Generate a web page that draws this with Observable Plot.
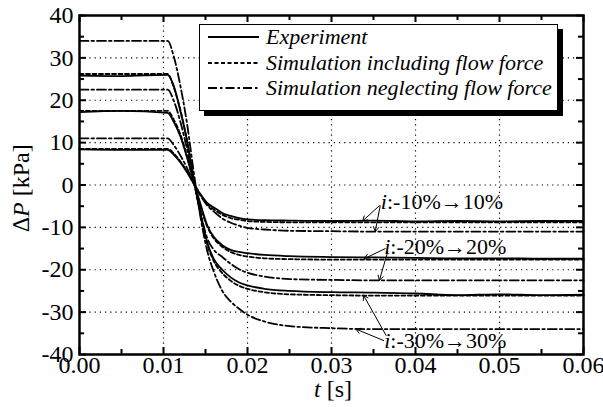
<!DOCTYPE html>
<html>
<head>
<meta charset="utf-8">
<script src="https://cdn.jsdelivr.net/npm/d3@7"></script>
<script src="https://cdn.jsdelivr.net/npm/@observablehq/plot@0.6"></script>
<style>
  body { margin: 0; background: #fff; }
  #chart { position: relative; width: 603px; height: 407px; font-family: 'Liberation Serif'; }
  #legend {
    position: absolute; left: 199px; top: 24px; width: 357px; height: 85px;
    background: #fff; border: 1px solid #000; box-shadow: 5px 5px 0 #000;
  }
  #legend .row { position: absolute; left: 0; height: 24px; display: flex; align-items: center; }
  #legend svg { margin-left: 8px; margin-right: 7px; }
  #legend span { font-style: italic; font-size: 22px; color: #000; font-family: 'Liberation Serif'; }
</style>
</head>
<body>
<div id="chart"></div>
<script>
// Time samples [s] shared by every curve
const times = [0, 0.005, 0.0105, 0.0112, 0.012, 0.0128, 0.0136, 0.0144, 0.0152, 0.016, 0.017, 0.018, 0.019, 0.02, 0.022, 0.025, 0.03, 0.035, 0.04, 0.045, 0.05, 0.055, 0.06];

// Measured pressure difference ΔP [kPa]
const exp10 = [8.4, 8.3, 8.3, 7.2, 5.4, 3.0, 0.3, -2.2, -4.2, -5.3, -6.6, -7.3, -7.8, -8.1, -8.3, -8.4, -8.5, -8.4, -8.6, -8.5, -8.6, -8.5, -8.5];
const exp20 = [17.2, 17.5, 17.0, 15.0, 11.5, 6.5, 0.8, -4.5, -9.5, -12.3, -14.2, -15.3, -15.8, -16.1, -16.5, -16.8, -17.0, -17.1, -17.2, -17.3, -17.3, -17.4, -17.4];
const exp30 = [25.8, 25.7, 26.0, 23.5, 17.5, 10.5, 1.5, -6.5, -13.5, -17.5, -20.0, -21.8, -23.0, -23.7, -24.5, -25.0, -25.3, -25.4, -25.6, -26.0, -25.8, -26.0, -25.9];

// Simulation including flow force
const incl10 = [8.5, 8.5, 8.5, 7.5, 5.6, 3.2, 0.4, -2.3, -4.5, -5.8, -7.0, -7.8, -8.2, -8.5, -8.7, -8.8, -8.8, -8.8, -8.8, -8.8, -8.8, -8.8, -8.8];
const incl20 = [17.5, 17.5, 17.5, 15.5, 12.0, 6.8, 0.6, -5.0, -9.8, -12.6, -14.6, -15.8, -16.5, -16.9, -17.3, -17.5, -17.6, -17.6, -17.6, -17.6, -17.6, -17.6, -17.6];
const incl30 = [26.2, 26.2, 26.2, 23.2, 17.8, 10.5, 1.2, -7.0, -14.0, -18.0, -20.8, -22.6, -23.8, -24.5, -25.3, -25.8, -26.0, -26.1, -26.1, -26.1, -26.1, -26.1, -26.1];

// Simulation neglecting flow force
const negl10 = [11.0, 11.0, 11.0, 9.5, 7.0, 4.0, 0.5, -2.5, -4.8, -6.3, -7.9, -8.9, -9.6, -10.1, -10.5, -10.8, -10.9, -11.0, -11.0, -11.0, -11.0, -11.0, -11.0];
const negl20 = [22.5, 22.5, 22.5, 20.0, 15.0, 8.5, 1.0, -6.5, -12.5, -15.3, -17.0, -18.6, -19.9, -20.7, -21.6, -22.2, -22.4, -22.5, -22.5, -22.5, -22.5, -22.5, -22.5];
const negl30 = [34.0, 34.0, 34.0, 30.5, 23.5, 14.5, 3.0, -7.5, -15.5, -20.5, -25.0, -27.5, -29.2, -30.6, -32.2, -33.3, -33.8, -34.0, -34.0, -34.0, -34.0, -34.0, -34.0];

// Axis ticks
const xMajor = [0, 0.01, 0.02, 0.03, 0.04, 0.05, 0.06];
const xMinor = [0.005, 0.015, 0.025, 0.035, 0.045, 0.055];
const yMajor = [-40, -30, -20, -10, 0, 10, 20, 30, 40];
const yMinor = [-35, -25, -15, -5, 5, 15, 25, 35];
const xGrid = [0.01, 0.02, 0.03, 0.04, 0.05];
const yGrid = [-30, -20, -10, 0, 10, 20, 30];

// Step labels and their pointer arrows (t, ΔP)
const stepLabels = [
  {t: 0.0366, v: -4.0, text: ":-10%→10%"},
  {t: 0.0370, v: -14.7, text: ":-20%→20%"},
  {t: 0.0370, v: -36.9, text: ":-30%→30%"}
];
const pointers = [
  {t1: 0.0357, v1: -4.9, t2: 0.0337, v2: -8.5},
  {t1: 0.0358, v1: -4.9, t2: 0.0352, v2: -11.0},
  {t1: 0.0364, v1: -15.0, t2: 0.0339, v2: -17.4},
  {t1: 0.0367, v1: -15.7, t2: 0.0357, v2: -22.5},
  {t1: 0.0365, v1: -35.5, t2: 0.0338, v2: -26.0},
  {t1: 0.0362, v1: -36.7, t2: 0.0329, v2: -34.0}
];

const series = [
  {style: "exp", vals: exp10}, {style: "exp", vals: exp20}, {style: "exp", vals: exp30},
  {style: "incl", vals: incl10}, {style: "incl", vals: incl20}, {style: "incl", vals: incl30},
  {style: "negl", vals: negl10}, {style: "negl", vals: negl20}, {style: "negl", vals: negl30}
];
const rows = series.flatMap((s, i) => times.map((t, j) => ({t, v: s.vals[j], key: i, style: s.style})));
const pick = (style) => rows.filter(d => d.style === style);

const W = 603, H = 407, mt = 15, mb = 53, ml = 79, mr = 20;
const innerH = H - mt - mb, innerW = W - ml - mr;
const lineOpts = {x: "t", y: "v", z: "key", stroke: "#000", strokeWidth: 1.8, curve: "monotone-x"};

const plot = Plot.plot({
  width: W, height: H,
  marginTop: mt, marginBottom: mb, marginLeft: ml, marginRight: mr,
  style: {fontFamily: "Liberation Serif", fontSize: "24px", background: "#fff", color: "#000"},
  x: {domain: [0, 0.06]},
  y: {domain: [-40, 40]},
  marks: [
    Plot.gridX(xGrid, {stroke: "#000", strokeOpacity: 1, strokeWidth: 1.2, strokeDasharray: "1.2,4"}),
    Plot.gridY(yGrid, {stroke: "#000", strokeOpacity: 1, strokeWidth: 1.2, strokeDasharray: "1.2,4"}),
    Plot.line(pick("exp"), lineOpts),
    Plot.line(pick("incl"), {...lineOpts, strokeDasharray: "4,2.5"}),
    Plot.line(pick("negl"), {...lineOpts, strokeDasharray: "9,3,2.5,3"}),
    // inward ticks on all four sides
    Plot.tickX(xMajor, {x: d => d, insetTop: innerH - 7, strokeWidth: 2}),
    Plot.tickX(xMajor, {x: d => d, insetBottom: innerH - 7, strokeWidth: 2}),
    Plot.tickX(xMinor, {x: d => d, insetTop: innerH - 5, strokeWidth: 2}),
    Plot.tickX(xMinor, {x: d => d, insetBottom: innerH - 5, strokeWidth: 2}),
    Plot.tickY(yMajor, {y: d => d, insetRight: innerW - 7, strokeWidth: 2}),
    Plot.tickY(yMajor, {y: d => d, insetLeft: innerW - 7, strokeWidth: 2}),
    Plot.tickY(yMinor, {y: d => d, insetRight: innerW - 5, strokeWidth: 2}),
    Plot.tickY(yMinor, {y: d => d, insetLeft: innerW - 5, strokeWidth: 2}),
    Plot.frame({stroke: "#000", strokeWidth: 2.5}),
    Plot.axisX(xMajor, {tickSize: 0, tickPadding: 1, tickFormat: d3.format(".2f"), label: null, fontSize: 24}),
    Plot.axisY(yMajor, {tickSize: 0, tickPadding: 6, tickFormat: d => String(d), label: null, fontSize: 24}),
    Plot.arrow(pointers, {x1: "t1", y1: "v1", x2: "t2", y2: "v2", stroke: "#000", strokeWidth: 1, headLength: 8}),
    Plot.text(stepLabels, {x: "t", y: "v", text: () => "i", textAnchor: "end", fontStyle: "italic", fontSize: 22}),
    Plot.text(stepLabels, {x: "t", y: "v", text: "text", textAnchor: "start", fontSize: 22})
  ]
});

const chart = document.getElementById("chart");
chart.appendChild(plot);

// axis titles with italic symbols
const svg = d3.select(plot);
const yt = svg.append("text")
  .attr("transform", "translate(29,188) rotate(-90)")
  .attr("text-anchor", "middle")
  .attr("font-size", 24);
yt.append("tspan").attr("font-style", "italic").text("∆P");
yt.append("tspan").text(" [kPa]");
const xt = svg.append("text")
  .attr("x", 333).attr("y", 397)
  .attr("text-anchor", "middle")
  .attr("font-size", 24);
xt.append("tspan").attr("font-style", "italic").text("t");
xt.append("tspan").text(" [s]");

// legend box
const legendItems = [
  {label: "Experiment", dash: null},
  {label: "Simulation including flow force", dash: "4,2.5"},
  {label: "Simulation neglecting flow force", dash: "9,3,2.5,3"}
];
const legend = document.createElement("div");
legend.id = "legend";
legendItems.forEach((item, i) => {
  const row = document.createElement("div");
  row.className = "row";
  row.style.top = (0 + i * 25.5) + "px";
  const s = d3.create("svg").attr("width", 51).attr("height", 6);
  s.append("line").attr("x1", 0).attr("x2", 51).attr("y1", 3).attr("y2", 3)
    .attr("stroke", "#000").attr("stroke-width", 1.8)
    .attr("stroke-dasharray", item.dash);
  row.appendChild(s.node());
  const label = document.createElement("span");
  label.textContent = item.label;
  row.appendChild(label);
  legend.appendChild(row);
});
chart.appendChild(legend);
</script>
</body>
</html>
